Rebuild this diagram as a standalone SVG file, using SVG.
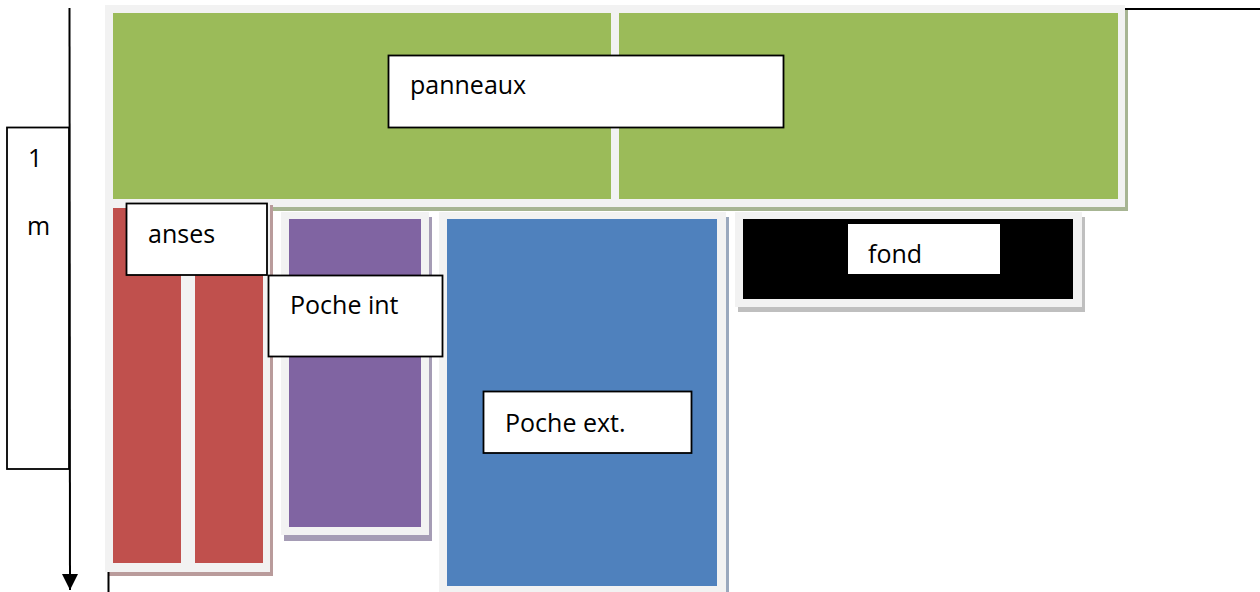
<svg xmlns="http://www.w3.org/2000/svg" width="1260" height="592" viewBox="0 0 1260 592">
<style>
.frame{fill:#f2f2f2}
.lbl{fill:#ffffff;stroke:#000000;stroke-width:1.8}
.txt{font-family:"Open Sans","Noto Sans",sans-serif;font-size:25px;fill:#000000}
.ax{stroke:#000000;stroke-width:2;fill:none}
</style>
<defs>
<marker id="arr" markerWidth="16" markerHeight="16" refX="16" refY="8" orient="auto" markerUnits="userSpaceOnUse" viewBox="0 0 16 16">
<path d="M0,0 L16,8 L0,16 Z" fill="#000000"/>
</marker>
</defs>
<rect width="1260" height="592" fill="#ffffff"/>

<g id="panneaux">
<rect x="108" y="9" width="1020" height="202" fill="#a7b593"/>
<rect class="frame" x="105" y="5" width="1020" height="202"/>
<rect x="113" y="13" width="498" height="186" fill="#9bbb59"/>
<rect x="619" y="13" width="499" height="186" fill="#9bbb59"/>
</g>

<g id="anses-pieces">
<rect x="108" y="205" width="165" height="371" fill="#b99b9b"/>
<rect class="frame" x="105" y="200" width="165" height="372"/>
<rect x="113" y="208" width="68" height="355" fill="#c0504d"/>
<rect x="195" y="208" width="68" height="355" fill="#c0504d"/>
</g>

<g id="poche-int-piece">
<rect x="284" y="217" width="148" height="324" fill="#a59cb5"/>
<rect class="frame" x="281" y="212" width="148" height="323"/>
<rect x="289" y="219" width="132" height="308" fill="#8064a2"/>
</g>

<g id="poche-ext-piece">
<rect x="442" y="217" width="287" height="380" fill="#9aa8bd"/>
<rect class="frame" x="439" y="212" width="287" height="385"/>
<rect x="447" y="219" width="270" height="367" fill="#4f81bd"/>
</g>

<g id="fond-piece">
<rect x="738" y="217" width="347" height="95" fill="#bfbfbf"/>
<rect class="frame" x="735" y="212" width="347" height="95"/>
<rect x="743" y="219" width="330" height="80" fill="#000000"/>
</g>

<g id="connectors">
<line class="ax" x1="69.5" y1="8" x2="70" y2="590" marker-end="url(#arr)"/>
<line class="ax" x1="1125" y1="9" x2="1260" y2="9"/>
<line class="ax" x1="108.5" y1="572" x2="108.5" y2="592"/>
</g>

<g id="dimension">
<rect class="lbl" x="7" y="127.5" width="62" height="341.5"/>
<text class="txt" x="28" y="167">1</text>
<text class="txt" x="27" y="235">m</text>
</g>

<g id="label-panneaux">
<rect class="lbl" x="388.5" y="55.5" width="395" height="72"/>
<text class="txt" x="410" y="94">panneaux</text>
</g>

<g id="label-anses">
<rect class="lbl" x="126.5" y="203.5" width="140.5" height="71.5"/>
<text class="txt" x="148" y="243">anses</text>
</g>

<g id="label-poche-int">
<rect class="lbl" x="268.5" y="275.5" width="174" height="81"/>
<text class="txt" x="290" y="314">Poche int</text>
</g>

<g id="label-poche-ext">
<rect class="lbl" x="483.5" y="391.5" width="208" height="61.5"/>
<text class="txt" x="505" y="432">Poche ext.</text>
</g>

<g id="label-fond">
<rect x="848" y="224" width="152" height="50" fill="#ffffff"/>
<text class="txt" x="868" y="263">fond</text>
</g>
</svg>
